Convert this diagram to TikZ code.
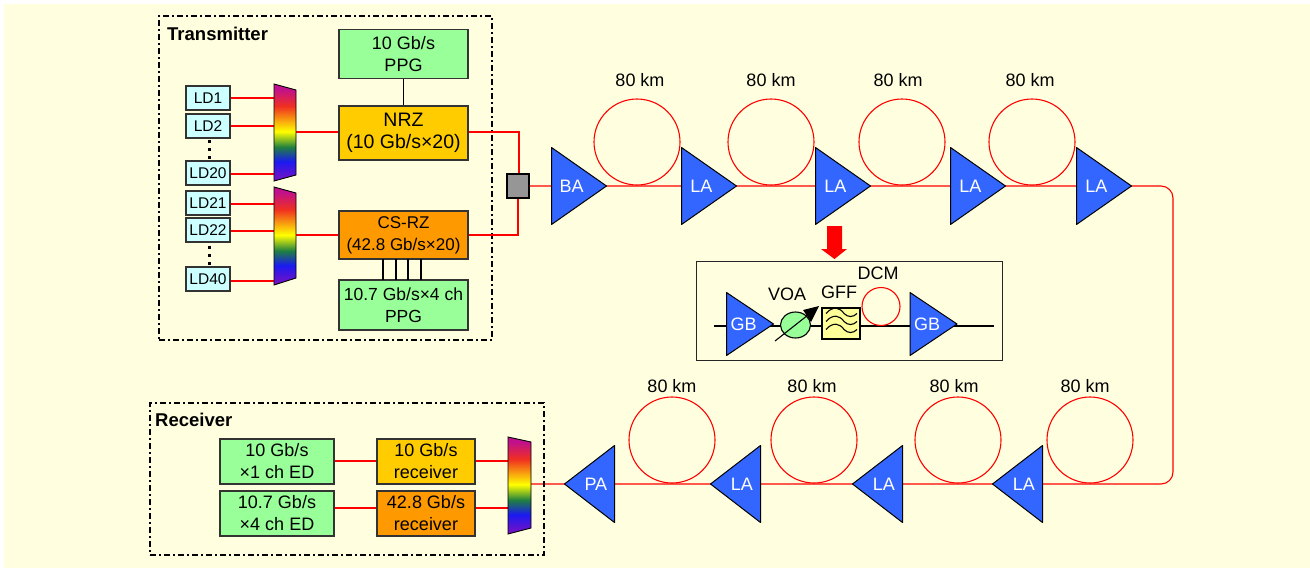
\documentclass[tikz,border=0pt]{standalone}
\usepackage{fontspec}
\setmainfont{Liberation Sans}
\usepackage{tikz}
\usetikzlibrary{shapes,positioning}
\definecolor{paper}{HTML}{FFFFE0}
\definecolor{ppggreen}{HTML}{99FF99}
\definecolor{nrzgold}{HTML}{FFCC00}
\definecolor{rzorange}{HTML}{FF9900}
\definecolor{ldcyan}{HTML}{CCFFFF}
\definecolor{ampblue}{HTML}{3366FF}
\definecolor{gffyellow}{HTML}{FFFF99}
\definecolor{couplergray}{HTML}{969696}
\definecolor{muxpurple}{HTML}{7F10C0}
\definecolor{muxblue}{HTML}{1A1AF0}
\definecolor{muxgreen}{HTML}{208040}
\definecolor{muxred}{HTML}{F03020}
\definecolor{muxmagenta}{HTML}{C0108C}
\pgfdeclareverticalshading{rainbowmux}{100bp}{
  color(0bp)=(muxpurple);
  color(25bp)=(muxpurple);
  color(35bp)=(muxblue);
  color(42.5bp)=(muxgreen);
  color(50.5bp)=(yellow);
  color(63.5bp)=(muxred);
  color(72.5bp)=(muxmagenta);
  color(100bp)=(muxmagenta)}
\newcommand{\muxnode}[6]{%
  \shade[shading=rainbowmux,draw=black,line width=0.9pt] (#2) -- (#3) -- (#4) -- (#5) -- cycle;
  \node[muxport] (#1) at (#6) {};
}
\begin{document}
\begin{tikzpicture}[
    x=1pt, y=-1pt,
    font=\fontsize{18}{22}\selectfont,
    block/.style={rectangle, draw=black!80, line width=1.1pt, align=center, inner sep=0pt},
    ppg/.style={block, fill=ppggreen, minimum width=129pt, minimum height=49pt},
    nrz/.style={block, fill=nrzgold, minimum width=129pt, font=\fontsize{19.5}{22}\selectfont},
    csrz/.style={block, fill=rzorange, minimum width=129pt, font=\fontsize{17}{22}\selectfont},
    ld/.style={block, fill=ldcyan, minimum width=44pt, minimum height=24pt, font=\fontsize{15.5}{18}\selectfont},
    edbox/.style={block, fill=ppggreen, minimum width=114pt, minimum height=45pt},
    rxbox/.style={block, minimum width=98pt, minimum height=45pt},
    amp/.style={isosceles triangle, isosceles triangle stretches, draw=black, line width=1pt, line join=round, fill=ampblue, text=white,
      minimum width=77pt, minimum height=55pt, inner sep=0pt},
    ampleft/.style={amp, shape border rotate=180, minimum height=50pt},
    gainblock/.style={amp, minimum width=63pt, minimum height=47pt},
    fibre/.style={circle, draw=red, line width=1.1pt, inner sep=0pt},
    span/.style={fibre, minimum size=86pt},
    wire/.style={draw=red, line width=1.5pt},
    thinwire/.style={draw=red, line width=1.1pt},
    sigwire/.style={draw=black, line width=1.1pt},
    frame/.style={draw=black, line width=1.5pt, dash pattern=on 6pt off 3pt on 2pt off 3pt},
    ldgap/.style={draw=black, line width=3pt, dash pattern=on 3pt off 5pt},
    muxport/.style={inner sep=0pt, minimum width=22pt, minimum height=1pt},
    caption/.style={inner sep=0pt, font=\fontsize{18.5}{22}\selectfont\bfseries},
    lbl/.style={inner sep=0pt}
]
\useasboundingbox (0,0) rectangle (1310,568);
\fill[paper] (4,4) rectangle (1310,568);

% Transmitter
\node[frame, rectangle, minimum width=333pt, minimum height=324pt, inner sep=0pt] (txframe) at (325.5,178) {};
\node[caption, anchor=west] (txcap) at (167,33.5) {Transmitter};
\node[ppg] (ppga) at (403.5,54) {10 Gb/s\\PPG};
\node[nrz, minimum height=54pt] (nrz) at (403.5,133) {NRZ\\(10 Gb/s×20)};
\node[csrz, minimum height=48pt] (csrz) at (403.5,235) {CS-RZ\\(42.8 Gb/s×20)};
\node[ppg, minimum height=50pt, font=\fontsize{17.5}{22}\selectfont] (ppgb) at (403.5,305) {10.7 Gb/s×4 ch\\PPG};
\node[ld] (ld1) at (208,98) {LD1};
\node[ld] (ld2) at (208,126) {LD2};
\node[ld] (ld20) at (208,173) {LD20};
\node[ld] (ld21) at (208,203) {LD21};
\node[ld] (ld22) at (208,230) {LD22};
\node[ld] (ld40) at (208,279) {LD40};

% Fibre spans and amplifiers, upper row
\node[span] (spana) at (637,142) {};
\node[span] (spanb) at (771,142) {};
\node[span] (spanc) at (902,142) {};
\node[span] (spand) at (1032,142) {};
\node[lbl] (kma) at (640,80) {80 km};
\node[lbl] (kmb) at (771,80) {80 km};
\node[lbl] (kmc) at (898,80) {80 km};
\node[lbl] (kmd) at (1030,80) {80 km};

% Fibre spans and amplifiers, lower row
\node[span] (spane) at (1090,440) {};
\node[span] (spanf) at (958,440) {};
\node[span] (spang) at (814,440) {};
\node[span] (spanh) at (672,440) {};
\node[lbl] (kme) at (1085,386) {80 km};
\node[lbl] (kmf) at (954,386) {80 km};
\node[lbl] (kmg) at (812,386) {80 km};
\node[lbl] (kmh) at (672,386) {80 km};

% Connections
\coordinate (bendtop) at (519,132);
\coordinate (bendlow) at (518,235);
\coordinate (loopa) at (1173,186);
\coordinate (loopb) at (1173,484);
\coordinate (muxaout) at (296,132);
\coordinate (muxbout) at (296,235);
\coordinate (paend) at (531,484);
\foreach \ldname/\ypos in {ld1/98,ld2/126,ld20/174,ld21/204,ld22/231,ld40/281} {
  \path[wire] (\ldname.east |- 0,\ypos) -- (274,\ypos);
}
\path[thinwire] (muxaout) -- (nrz.west |- muxaout);
\path[thinwire] (muxbout) -- (csrz.west |- muxbout);
\path[thinwire] (nrz.east |- bendtop) -- (bendtop) -- (519,174);
\path[thinwire] (csrz.east |- bendlow) -- (bendlow) -- (518,198);
\draw[sigwire] (ppga) -- (nrz);
\foreach \xpos in {383,396,408,421} {
  \draw[sigwire] (\xpos,259) -- (\xpos,280);
}
\path[ldgap] (209,140) -- (209,160);
\path[ldgap] (209,245.5) -- (209,265);
\muxnode{muxa}{274,84}{296,90}{296,175}{274,181}{285,132}
\muxnode{muxb}{274,187}{296,193}{296,278}{274,285}{285,235}
\node[rectangle, draw=black, line width=1.1pt, fill=couplergray, minimum width=22pt, minimum height=24pt, inner sep=0pt] (couplerbox) at (518,186) {};

% Amplifier line
\path[thinwire] (couplerbox.east) -- (1131,186) [rounded corners=12pt] -- (loopa) -- (loopb) [sharp corners] -- (paend);
\node[amp, anchor=lower side] (ba) at (551,186) {BA};
\node[amp, anchor=lower side] (laa) at (681,186) {LA};
\node[amp, anchor=lower side] (lab) at (815,186) {LA};
\node[amp, anchor=lower side] (lac) at (950,186) {LA};
\node[amp, anchor=lower side] (lad) at (1076,186) {LA};
\node[ampleft, anchor=lower side] (lae) at (1043,484) {LA};
\node[ampleft, anchor=lower side] (laf) at (903,484) {LA};
\node[ampleft, anchor=lower side] (lag) at (761,484) {LA};
\node[ampleft, anchor=lower side] (pa) at (615,484) {PA};

% Line stage detail
\fill[red] (827,226) -- (842,226) -- (842,249) -- (847,249) -- (834.5,259) -- (821,249) -- (827,249) -- cycle;
\node[rectangle, draw=black!85, line width=1pt, minimum width=306pt, minimum height=99pt, inner sep=0pt] (detail) at (849,310.5) {};
\coordinate (stagein) at (714,325.5);
\coordinate (stageout) at (994,325.5);
\draw[black, line width=2pt] (stagein) -- (stageout);
\node[gainblock, anchor=lower side] (gba) at (726,324) {GB};
\node[gainblock, anchor=lower side] (gbb) at (909.5,324) {GB};
\node[ellipse, draw=black, line width=1.1pt, fill=ppggreen, minimum width=30pt, minimum height=26pt, inner sep=0pt] (voa) at (795.5,325) {};
\draw[black, line width=1.1pt] (775,341) -- (808,315);
\fill[black] (819,306) -- (811,322) -- (803,310) -- cycle;
\node[rectangle, draw=black, line width=1.1pt, fill=gffyellow, minimum width=38pt, minimum height=31pt, inner sep=0pt] (gff) at (841,323.5) {};
\foreach \yoff in {-10,-2,6} {
  \draw[black, line width=1.1pt] (826,323.5+\yoff) .. controls (833,323.5+\yoff-8) and (840,323.5+\yoff-6) .. (844,323.5+\yoff) .. controls (848,323.5+\yoff+4) and (853,323.5+\yoff+4) .. (857,323.5+\yoff);
}
\node[fibre, minimum size=38pt] (dcm) at (881,306.5) {};
\node[lbl] (voalbl) at (787,294) {VOA};
\node[lbl] (gfflbl) at (839,292) {GFF};
\node[lbl] (dcmlbl) at (878,273) {DCM};

% Receiver
\node[frame, rectangle, minimum width=394pt, minimum height=152pt, inner sep=0pt] (rxframe) at (347,479) {};
\node[caption, anchor=west] (rxcap) at (155,420) {Receiver};
\node[edbox] (eda) at (277,461.5) {10 Gb/s\\×1 ch ED};
\node[edbox] (edb) at (277,513.5) {10.7 Gb/s\\×4 ch ED};
\node[rxbox, fill=nrzgold] (rxa) at (426,461.5) {10 Gb/s\\receiver};
\node[rxbox, fill=rzorange] (rxb) at (426,513.5) {42.8 Gb/s\\receiver};
\path[wire] (eda.east |- 0,461) -- (rxa.west |- 0,461);
\path[wire] (edb.east |- 0,508) -- (rxb.west |- 0,508);
\path[wire] (rxa.east |- 0,461) -- (508,461);
\path[wire] (rxb.east |- 0,508) -- (508,508);
\muxnode{muxc}{508,437}{531,442}{531,528}{508,534}{519.5,484}
\end{tikzpicture}
\end{document}
